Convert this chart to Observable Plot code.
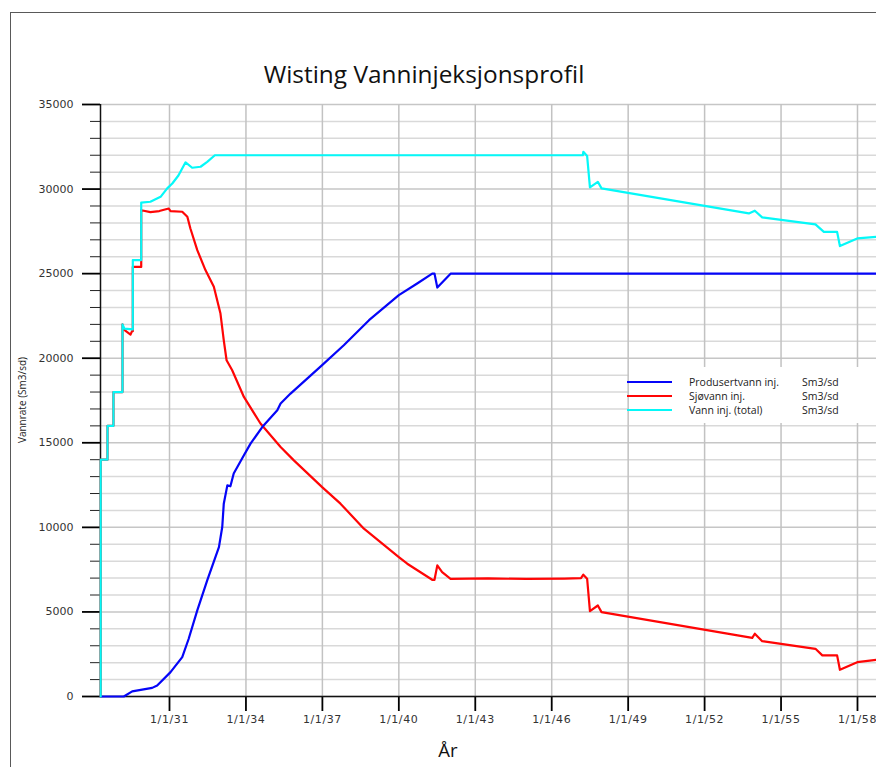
<!DOCTYPE html>
<html>
<head>
<meta charset="utf-8">
<script src="https://cdn.jsdelivr.net/npm/d3@7"></script>
<script src="https://cdn.jsdelivr.net/npm/@observablehq/plot@0.6"></script>
<style>
html,body{margin:0;padding:0;background:#fff;}
#wrap{position:relative;width:876px;height:767px;overflow:hidden;background:#fff;}
#frame{position:absolute;left:10px;top:12px;width:1000px;height:1000px;border:1px solid #595959;box-sizing:border-box;}
#chart{position:absolute;left:0;top:0;}
#title{position:absolute;left:0;width:848px;top:57px;text-align:center;font-family:"Open Sans";font-size:24.4px;color:#111;white-space:nowrap;}
#ylabel{position:absolute;left:22px;top:400px;transform:translate(-50%,-50%) rotate(-90deg);font-family:"Open Sans";font-size:10px;color:#222;white-space:nowrap;}
#xlabel{position:absolute;left:448px;top:737px;transform:translateX(-50%);font-family:"Open Sans";font-size:18.5px;color:#111;}
#legend{position:absolute;left:629px;top:367px;width:260px;height:56px;background:#fff;}
#legend svg{position:absolute;left:0;top:0;overflow:visible;}
</style>
</head>
<body>
<div id="wrap">
  <div id="frame"></div>
  <div id="chart"></div>
  <div id="title">Wisting Vanninjeksjonsprofil</div>
  <div id="ylabel">Vannrate (Sm3/sd)</div>
  <div id="xlabel">År</div>
  <div id="legend"></div>
</div>
<script>
// ---- data (decimal years, Sm3/sd) ----
const totalYears  = [2028.30,2028.30,2028.567,2028.567,2028.80,2028.80,2029.155,2029.155,2029.23,2029.56,2029.56,2029.89,2029.89,2030.25,2030.65,2030.91,2031.11,2031.35,2031.63,2031.89,2032.22,2032.48,2032.78,2047.22,2047.24,2047.39,2047.50,2047.81,2047.955,2053.736,2053.97,2054.26,2056.35,2056.68,2057.20,2057.31,2057.99,2058.746];
const totalValues = [0,14000,14000,16000,16000,18000,18000,22000,21750,21700,25800,25800,29200,29250,29540,30040,30330,30800,31580,31260,31320,31610,32000,32000,32200,31950,30100,30430,30040,28560,28720,28330,27910,27470,27470,26630,27080,27180];

const seaYears  = [2028.30,2028.30,2028.567,2028.567,2028.80,2028.80,2029.155,2029.155,2029.20,2029.47,2029.53,2029.56,2029.56,2029.89,2029.89,2029.99,2030.25,2030.60,2030.97,2031.04,2031.50,2031.70,2031.82,2032.09,2032.41,2032.74,2033.00,2033.13,2033.24,2033.46,2033.92,2034.57,2035.36,2035.88,2036.99,2037.71,2038.63,2040.00,2040.33,2041.31,2041.40,2041.51,2041.70,2042.03,2043.5,2045.0,2046.5,2047.15,2047.24,2047.39,2047.50,2047.81,2047.955,2053.87,2053.97,2054.26,2056.35,2056.62,2057.20,2057.31,2057.99,2058.746];
const seaValues = [0,14000,14000,16000,16000,18000,18000,22000,21700,21400,21600,21600,25400,25400,28750,28720,28640,28700,28850,28700,28660,28360,27670,26390,25210,24220,22640,21060,19880,19290,17710,16140,14750,13960,12380,11400,9920,8240,7850,6900,6900,7750,7350,6960,6980,6950,6970,7000,7200,6960,5050,5380,4990,3470,3710,3270,2820,2430,2430,1580,2030,2170];

const prodYears  = [2028.30,2029.207,2029.536,2030.32,2030.517,2031.04,2031.50,2031.75,2032.09,2032.48,2032.94,2033.07,2033.13,2033.27,2033.39,2033.52,2033.92,2034.18,2034.64,2035.23,2035.36,2035.75,2036.99,2037.84,2038.83,2040.00,2040.72,2041.31,2041.40,2041.51,2042.03,2058.746];
const prodValues = [0,0,300,510,650,1440,2330,3400,5090,6860,8830,10020,11400,12480,12430,13180,14260,14950,15930,16920,17320,17910,19590,20770,22250,23730,24420,25000,25000,24180,25000,25000];

const xTickYears  = [2031,2034,2037,2040,2043,2046,2049,2052,2055,2058];
const xTickLabels = ["1/1/31","1/1/34","1/1/37","1/1/40","1/1/43","1/1/46","1/1/49","1/1/52","1/1/55","1/1/58"];
const yMajorTicks = [0,5000,10000,15000,20000,25000,30000,35000];
const yMinorTicks = [1000,2000,3000,4000,6000,7000,8000,9000,11000,12000,13000,14000,16000,17000,18000,19000,21000,22000,23000,24000,26000,27000,28000,29000,31000,32000,33000,34000];
const xDomain = [2028.292, 2058.746];
const yDomain = [0, 35000];

const seriesNames = ["Produsertvann inj.", "Sjøvann inj.", "Vann inj. (total)"];
const seriesUnit = "Sm3/sd";
const seriesColors = ["#0505f8", "#ff0505", "#05f8f8"];

const rows = (xs, vs) => xs.map((x, i) => ({x, v: vs[i]}));
const prod = rows(prodYears, prodValues);
const sea = rows(seaYears, seaValues);
const total = rows(totalYears, totalValues);

const chart = Plot.plot({
  width: 876, height: 767,
  marginLeft: 100, marginRight: 0, marginTop: 104, marginBottom: 71,
  style: {background: "transparent", fontFamily: "DejaVu Sans", fontSize: "11px", color: "#333", overflow: "visible"},
  x: {domain: xDomain, axis: null},
  y: {domain: yDomain, axis: null},
  marks: [
    Plot.gridY(yMinorTicks, {stroke: "#d9d9d9", strokeOpacity: 1, strokeWidth: 1.5}),
    Plot.gridY(yMajorTicks, {stroke: "#c6c6c6", strokeOpacity: 1, strokeWidth: 1.5}),
    Plot.gridX(xTickYears, {stroke: "#c2c2c2", strokeOpacity: 1, strokeWidth: 1.5}),
    Plot.axisY(yMinorTicks, {tickSize: 10, tickFormat: () => "", stroke: "#222", strokeWidth: 1, label: null}),
    Plot.axisY(yMajorTicks, {tickSize: 18, tickPadding: 9, stroke: "#000", strokeWidth: 1.8, fill: "#333", fontSize: 11, label: null, tickFormat: d => String(d)}),
    Plot.axisX(xTickYears, {tickSize: 15, tickPadding: 4, stroke: "#000", strokeWidth: 1.8, fill: "#333", fontSize: 11, label: null, tickFormat: d => xTickLabels[xTickYears.indexOf(d)]}),
    Plot.ruleX([xDomain[0]], {stroke: "#111", strokeWidth: 1.5}),
    Plot.ruleY([0], {stroke: "#111", strokeWidth: 1.5}),
    Plot.line(sea, {x: "x", y: "v", stroke: seriesColors[1], strokeWidth: 2.2}),
    Plot.line(prod, {x: "x", y: "v", stroke: seriesColors[0], strokeWidth: 2.2}),
    Plot.line(total, {x: "x", y: "v", stroke: seriesColors[2], strokeWidth: 2.2})
  ]
});
chart.querySelectorAll('[aria-label="x-axis tick label"] text').forEach(t => t.setAttribute("letter-spacing", "0.6"));
document.getElementById("chart").appendChild(chart);

// legend
const ns = "http://www.w3.org/2000/svg";
const lsvg = document.createElementNS(ns, "svg");
lsvg.setAttribute("width", 260); lsvg.setAttribute("height", 56);
seriesNames.forEach((name, i) => {
  const y = 15 + 14 * i;
  const ln = document.createElementNS(ns, "line");
  ln.setAttribute("x1", -2); ln.setAttribute("x2", 43);
  ln.setAttribute("y1", y); ln.setAttribute("y2", y);
  ln.setAttribute("stroke", seriesColors[i]); ln.setAttribute("stroke-width", 2.2);
  lsvg.appendChild(ln);
  [[60, name], [173, seriesUnit]].forEach(([x, s]) => {
    const t = document.createElementNS(ns, "text");
    t.setAttribute("x", x); t.setAttribute("y", y);
    t.setAttribute("dy", "0.35em");
    t.setAttribute("font-family", "Open Sans");
    t.setAttribute("font-size", "10.5");
    t.setAttribute("fill", "#222");
    t.textContent = s;
    lsvg.appendChild(t);
  });
});
document.getElementById("legend").appendChild(lsvg);
</script>
</body>
</html>
